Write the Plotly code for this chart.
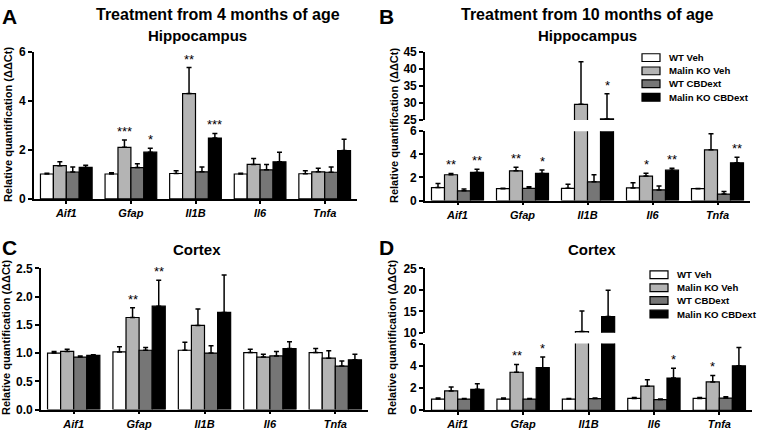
import plotly.graph_objects as go

W, H = 758, 435
FONT = "Liberation Sans, Arial, sans-serif"

genes = ["Aif1", "Gfap", "Il1B", "Il6", "Tnfa"]
groups = ["WT Veh", "Malin KO Veh", "WT CBDext", "Malin KO CBDext"]
colors = ["#ffffff", "#b4b4b4", "#767676", "#000000"]

# A - hippocampus, treatment from 4 months
a_mean = [
    [1.02, 1.02, 1.04, 1.02, 1.03],
    [1.36, 2.11, 4.31, 1.41, 1.11],
    [1.10, 1.28, 1.11, 1.19, 1.09],
    [1.29, 1.91, 2.49, 1.52, 1.98],
]
a_sem = [
    [0.03, 0.05, 0.11, 0.03, 0.12],
    [0.16, 0.30, 1.06, 0.24, 0.14],
    [0.21, 0.16, 0.20, 0.22, 0.22],
    [0.09, 0.16, 0.19, 0.39, 0.46],
]
a_stars = [["", "", "", "", ""], ["", "***", "**", "", ""],
           ["", "", "", "", ""], ["", "*", "***", "", ""]]

# B - hippocampus, treatment from 10 months
b_mean = [
    [1.12, 1.03, 1.06, 1.09, 1.03],
    [2.23, 2.57, 29.6, 2.12, 4.39],
    [0.84, 1.06, 1.62, 0.92, 0.56],
    [2.43, 2.35, 25.3, 2.63, 3.27],
]
b_sem = [
    [0.36, 0.03, 0.34, 0.45, 0.02],
    [0.12, 0.31, 12.6, 0.25, 1.39],
    [0.16, 0.14, 0.61, 0.34, 0.22],
    [0.28, 0.30, 7.4, 0.16, 0.47],
]
b_stars = [["", "", "", "", ""], ["**", "**", "", "*", ""],
           ["", "", "", "", ""], ["**", "*", "*", "**", "**"]]

# C - cortex, treatment from 4 months
c_mean = [
    [1.00, 1.02, 1.05, 1.01, 1.01],
    [1.03, 1.63, 1.49, 0.93, 0.91],
    [0.93, 1.05, 1.00, 0.95, 0.77],
    [0.96, 1.83, 1.72, 1.08, 0.88],
]
c_sem = [
    [0.03, 0.09, 0.14, 0.06, 0.07],
    [0.04, 0.17, 0.29, 0.05, 0.13],
    [0.02, 0.05, 0.13, 0.08, 0.09],
    [0.01, 0.46, 0.66, 0.12, 0.10],
]
c_stars = [["", "", "", "", ""], ["", "**", "", "", ""],
           ["", "", "", "", ""], ["", "**", "", "", ""]]

# D - cortex, treatment from 10 months
d_mean = [
    [1.01, 1.01, 1.01, 1.07, 1.07],
    [1.74, 3.42, 10.3, 2.17, 2.55],
    [1.01, 1.01, 1.05, 0.96, 1.10],
    [1.88, 3.83, 13.8, 2.90, 4.00],
]
d_sem = [
    [0.09, 0.09, 0.04, 0.09, 0.09],
    [0.35, 0.70, 4.8, 0.58, 0.58],
    [0.06, 0.06, 0.06, 0.06, 0.12],
    [0.50, 0.95, 6.1, 0.87, 1.65],
]
d_stars = [["", "", "", "", ""], ["", "**", "", "", "*"],
           ["", "", "", "", ""], ["", "*", "", "*", ""]]


def fx(x):
    return x / W


def fy(y):
    return 1 - y / H


# pixel layout of each panel; "high" is the upper part of a broken axis
panels = [
    dict(mean=a_mean, sem=a_sem, stars=a_stars, xa="x", ya="y", yb=None,
         xpx=(34, 357), low_px=(198.3, 46.7), low_range=[0, 6], low_ticks=[0, 2, 4, 6]),
    dict(mean=b_mean, sem=b_sem, stars=b_stars, xa="x2", ya="y2", yb="y3",
         xpx=(425, 750), low_px=(200, 128.3), low_range=[0, 6], low_ticks=[0, 2, 4, 6],
         high_px=(116.7, 46.7), high_range=[25, 45], high_ticks=[25, 30, 35, 40, 45]),
    dict(mean=c_mean, sem=c_sem, stars=c_stars, xa="x3", ya="y4", yb=None,
         xpx=(41, 368), low_px=(416, 270), low_range=[0, 2.5],
         low_ticks=[0, 0.5, 1.0, 1.5, 2.0, 2.5]),
    dict(mean=d_mean, sem=d_sem, stars=d_stars, xa="x4", ya="y5", yb="y6",
         xpx=(425, 752), low_px=(416.7, 347.7), low_range=[0, 6], low_ticks=[0, 2, 4, 6],
         high_px=(336.7, 270), high_range=[10, 25], high_ticks=[10, 15, 20, 25]),
]

bargap = 0.2
bar_w = (1 - bargap) / len(groups)
offsets = [-(1 - bargap) / 2 + (k + 0.5) * bar_w for k in range(len(groups))]


def axkey(a):
    return a[0] + "axis" + a[1:]


fig = go.Figure()
layout = {}
annotations = []
shapes = []

tick_y = dict(family=FONT, size=12, color="black", weight="bold")
tick_x = dict(family=FONT, size=11, color="black", weight="bold", style="italic")

for p in panels:
    yaxes = [p["ya"]] + ([p["yb"]] if p["yb"] else [])
    for k, name in enumerate(groups):
        for ya in yaxes:
            fig.add_trace(go.Bar(
                x=genes, y=p["mean"][k], name=name,
                xaxis=p["xa"], yaxis=ya, showlegend=False,
                marker=dict(color=colors[k], line=dict(color="black", width=1.2)),
                error_y=dict(type="data", symmetric=False, array=p["sem"][k],
                             arrayminus=[0] * len(genes), color="black",
                             thickness=1.5, width=2.5),
            ))

    layout[axkey(p["xa"])] = dict(
        domain=[fx(p["xpx"][0]), fx(p["xpx"][1])], anchor=p["ya"],
        type="category", range=[-0.5, len(genes) - 0.5],
        showline=True, linecolor="black", linewidth=1.6,
        ticks="outside", ticklen=3, tickwidth=1.5, tickcolor="black",
        tickfont=tick_x, showgrid=False, zeroline=False,
    )
    yspec = [(p["ya"], p["low_px"], p["low_range"], p["low_ticks"])]
    if p["yb"]:
        yspec.append((p["yb"], p["high_px"], p["high_range"], p["high_ticks"]))
    for ya, ypx, yr, yt in yspec:
        layout[axkey(ya)] = dict(
            domain=[fy(ypx[0]), fy(ypx[1])], anchor=p["xa"], range=yr,
            tickmode="array", tickvals=yt,
            tickformat=".1f" if yr[1] == 2.5 else "d",
            showline=True, linecolor="black", linewidth=1.6,
            ticks="outside", ticklen=4, tickwidth=1.5, tickcolor="black",
            tickfont=tick_y, showgrid=False, zeroline=False,
        )

    # significance stars above the KO bars
    for k in range(len(groups)):
        for j, s in enumerate(p["stars"][k]):
            if not s:
                continue
            top = p["mean"][k][j] + p["sem"][k][j]
            ya = p["yb"] if (p["yb"] and top > p["low_range"][1]) else p["ya"]
            annotations.append(dict(
                x=j + offsets[k], y=top, xref=p["xa"], yref=ya, text=s,
                showarrow=False, yanchor="bottom", yshift=-1,
                font=dict(family=FONT, size=13, color="black"),
            ))


def txt(x, y, text, size, bold=True, angle=0, xanchor="center"):
    annotations.append(dict(
        x=fx(x), y=fy(y), xref="paper", yref="paper", text=text,
        showarrow=False, xanchor=xanchor, yanchor="middle", textangle=angle,
        font=dict(family=FONT, size=size, color="black",
                  weight="bold" if bold else "normal"),
    ))


# panel letters and titles
txt(9, 10, "A", 21)
txt(386, 10, "B", 21)
txt(9, 249, "C", 21)
txt(386, 249, "D", 21)
txt(218, 8, "Treatment from 4 months of age", 16)
txt(587, 8, "Treatment from 10 months of age", 16)
txt(197, 29, "Hippocampus", 15)
txt(587, 29, "Hippocampus", 15)
txt(197, 251, "Cortex", 15)
txt(592, 251, "Cortex", 15)

ytitle = "Relative quantification (ΔΔCt)"
txt(8, 122, ytitle, 11, angle=-90)
txt(394, 123, ytitle, 11, angle=-90)
txt(6, 342, ytitle, 11, angle=-90)
txt(392, 342, ytitle, 11, angle=-90)

# legends (B and D)
for lx, tx, rows in [(642, 667, [52.3, 66, 79.3, 93.3]),
                     (650, 675, [276.7, 290, 303.3, 317.3])]:
    for k, name in enumerate(groups):
        yc = rows[k]
        shapes.append(dict(
            type="rect", xref="paper", yref="paper",
            x0=fx(lx), x1=fx(lx + 18), y0=fy(yc + 4), y1=fy(yc - 4),
            fillcolor=colors[k], line=dict(color="black", width=1.2),
        ))
        txt(tx, yc, name, 9.6, xanchor="left")

fig.update_layout(
    width=W, height=H,
    margin=dict(l=0, r=0, t=0, b=0),
    paper_bgcolor="white", plot_bgcolor="white",
    barmode="group", bargap=bargap, bargroupgap=0,
    annotations=annotations, shapes=shapes,
    font=dict(family=FONT, color="black"),
    **layout,
)

# the page's default body margin would push the figure off the window
fig.write_html("out.html", config={"displayModeBar": False},
               post_script="document.body.style.margin = '0';")
